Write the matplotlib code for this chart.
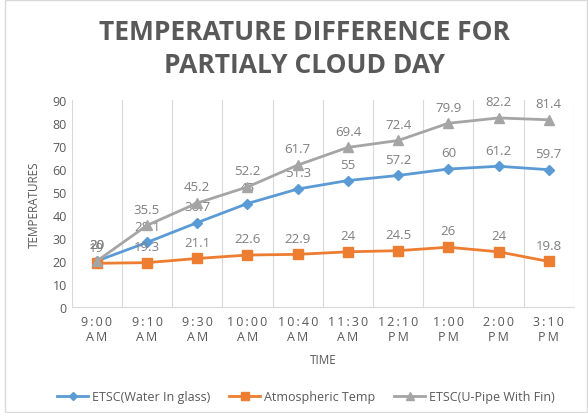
import matplotlib.pyplot as plt
from matplotlib.patches import Rectangle

# readings over the day
times = ['9:00\nAM', '9:10\nAM', '9:30\nAM', '10:00\nAM', '10:40\nAM',
         '11:30\nAM', '12:10\nPM', '1:00\nPM', '2:00\nPM', '3:10\nPM']
water_glass = [20, 28.1, 36.7, 45, 51.3, 55, 57.2, 60, 61.2, 59.7]
atmospheric = [19, 19.3, 21.1, 22.6, 22.9, 24, 24.5, 26, 24, 19.8]
u_pipe_fin = [20, 35.5, 45.2, 52.2, 61.7, 69.4, 72.4, 79.9, 82.2, 81.4]

plt.rcParams['font.family'] = ['Open Sans', 'DejaVu Sans']
txt = '#595959'
lbl = '#7f7f7f'


def spaced(s, sep='\u2009'):
    # widen the lettering a little
    return '\n'.join(sep.join(line) for line in s.split('\n'))


fig = plt.figure(figsize=(5.88, 4.14), dpi=100)
ax = fig.add_axes([0.122, 0.256, 0.854, 0.5])
x = list(range(len(times)))

series = [
    (water_glass, '#5b9bd5', 'D', 5.5, 'ETSC(Water In glass)'),
    (atmospheric, '#ed7d31', 's', 7.5, 'Atmospheric Temp'),
    (u_pipe_fin, '#a5a5a5', '^', 7.5, 'ETSC(U-Pipe With Fin)'),
]
for vals, col, mk, ms, name in series:
    ax.plot(x, vals, color=col, lw=2, marker=mk, ms=ms, label=name, zorder=3)
    for xi, v in zip(x, vals):
        ax.annotate(f'{v:g}', (xi, v), xytext=(0, 7), textcoords='offset points',
                    ha='center', va='bottom', fontsize=9.5, color=lbl)

ax.set_xlim(-0.5, len(times) - 0.5)
ax.set_ylim(0, 90)
ax.set_yticks(range(0, 91, 10))
for k in range(len(times) + 1):
    ax.axvline(k - 0.5, color='#d9d9d9', lw=0.8, zorder=0)
for s in ['top', 'left', 'right']:
    ax.spines[s].set_visible(False)
ax.spines['bottom'].set_color('#d9d9d9')
ax.set_xticks(x)
ax.set_xticklabels([spaced(t) for t in times], fontsize=8.5, color=txt, linespacing=1.15)
ax.tick_params(axis='both', length=0, colors=txt, labelsize=9)
ax.tick_params(axis='x', pad=6)
ax.set_xlabel('TIME', fontsize=8.5, color=txt, labelpad=7)
ax.set_ylabel('TEMPERATURES', fontsize=8.5, color=txt, labelpad=8)

fig.suptitle('TEMPERATURE DIFFERENCE FOR\nPARTIALY CLOUD DAY', x=0.518,
             y=0.955, fontsize=19, fontweight='bold', color=txt, linespacing=1.3)

leg = fig.legend(loc='center', bbox_to_anchor=(0.52, 0.04), ncol=3, frameon=False,
                 fontsize=9, handlelength=2.5, columnspacing=1.5, handletextpad=0.3,
                 markerscale=0.7)
for t in leg.get_texts():
    t.set_color(txt)

fig.patches.append(Rectangle((0.008, 0.003), 0.99, 0.994, transform=fig.transFigure,
                             fill=False, edgecolor='#d9d9d9', lw=1))

fig.savefig('out.png', dpi=100)
